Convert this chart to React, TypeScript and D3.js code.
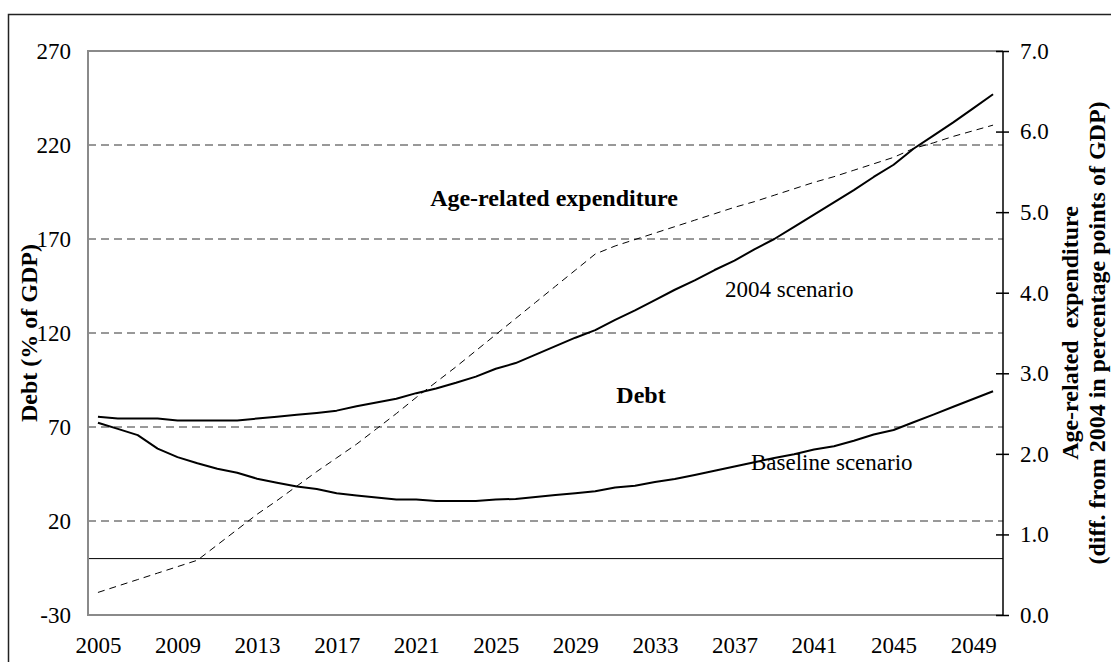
import React, { useEffect, useRef } from "react";
import * as d3 from "d3";

const years: number[] = d3.range(2005, 2051);
const yearTicks: number[] = [2005, 2009, 2013, 2017, 2021, 2025, 2029, 2033, 2037, 2041, 2045, 2049];
const debtTicks: number[] = [-30, 20, 70, 120, 170, 220, 270];
const gridTicks: number[] = [20, 70, 120, 170, 220];
const expTicks: number[] = [0, 1, 2, 3, 4, 5, 6, 7];

// Debt, 2004 scenario (% of GDP)
const debt2004: number[] = [
  75.5, 74.5, 74.5, 74.5, 73.5, 73.5, 73.5, 73.5, 74.5, 75.5,
  76.5, 77.5, 78.7, 81, 83, 85, 88, 90.5, 93.5, 96.8,
  101, 104, 108.5, 113, 117.5, 121.5, 127, 132, 137.5, 143,
  148, 153.5, 158.5, 164.5, 170, 176.5, 183, 189.5, 196, 203,
  209.5, 218, 225, 232, 239.5, 247,
];
// Debt, baseline scenario (% of GDP)
const debtBaseline: number[] = [
  72.3, 69, 65.7, 58.5, 54, 50.7, 47.8, 45.7, 42.5, 40.4,
  38.3, 37, 34.8, 33.6, 32.5, 31.5, 31.5, 30.6, 30.6, 30.6,
  31.5, 31.7, 32.8, 33.8, 34.8, 35.8, 37.8, 38.8, 40.8, 42.3,
  44.5, 46.7, 49, 51.3, 53.5, 55.5, 58, 59.8, 62.7, 66,
  68.4, 72.5, 76.6, 80.8, 84.9, 89,
];
// Age-related expenditure (diff. from 2004, pp of GDP)
const ageExp: number[] = [
  0.28, 0.36, 0.44, 0.52, 0.6, 0.68, 0.87, 1.06, 1.25, 1.42,
  1.6, 1.78, 1.95, 2.12, 2.31, 2.5, 2.7, 2.89, 3.08, 3.28,
  3.48, 3.68, 3.88, 4.08, 4.28, 4.48, 4.58, 4.66, 4.74, 4.82,
  4.9, 4.98, 5.06, 5.13, 5.21, 5.29, 5.37, 5.44, 5.52, 5.6,
  5.68, 5.79, 5.86, 5.94, 6.01, 6.08,
];

const W = 1111;
const H = 662;
const L = 88;
const R = 1003;
const T = 51;
const B = 615;
const FONT = "'Liberation Serif', 'Times New Roman', serif";

export default function App() {
  const ref = useRef<SVGSVGElement | null>(null);

  useEffect(() => {
    const svg = d3.select(ref.current);
    svg.selectAll("*").remove();

    const x = d3.scalePoint<number>().domain(years).range([L, R]).padding(0.5);
    const yL = d3.scaleLinear().domain([-30, 270]).range([B, T]);
    const yR = d3.scaleLinear().domain([0, 7]).range([B, T]);

    // outer frame
    svg.append("rect")
      .attr("x", 8.5).attr("y", 14.5)
      .attr("width", 1200).attr("height", 800)
      .attr("fill", "none").attr("stroke", "#222").attr("stroke-width", 1.5);

    // gridlines
    svg.append("g").selectAll("line").data(gridTicks).join("line")
      .attr("x1", L).attr("x2", R)
      .attr("y1", (d) => yL(d)).attr("y2", (d) => yL(d))
      .attr("stroke", "#333").attr("stroke-width", 1)
      .attr("stroke-dasharray", "8,5");

    // zero line
    svg.append("line")
      .attr("x1", L).attr("x2", R)
      .attr("y1", yL(0)).attr("y2", yL(0))
      .attr("stroke", "#000").attr("stroke-width", 1);

    // plot border (left, top, bottom) grey
    svg.append("path")
      .attr("d", `M${R},${T}H${L}V${B}H${R}`)
      .attr("fill", "none").attr("stroke", "#8a8a8a").attr("stroke-width", 2);

    // left axis
    const gL = svg.append("g").attr("transform", `translate(${L},0)`)
      .call(d3.axisLeft(yL).tickValues(debtTicks).tickSize(0).tickPadding(17).tickFormat((d) => String(d)));
    gL.select(".domain").remove();
    gL.selectAll("text").attr("font-family", FONT).attr("font-size", 23).attr("fill", "#000");

    // right axis
    const gR = svg.append("g").attr("transform", `translate(${R},0)`)
      .call(d3.axisRight(yR).tickValues(expTicks).tickSize(6).tickPadding(11).tickFormat((d) => (d as number).toFixed(1)));
    gR.select(".domain").attr("d", `M0,${T}V${B}`).attr("stroke", "#000").attr("stroke-width", 1.5);
    gR.selectAll(".tick line").attr("x1", -7).attr("stroke", "#000").attr("stroke-width", 1.5);
    gR.selectAll("text").attr("font-family", FONT).attr("font-size", 23).attr("fill", "#000");

    // bottom axis
    const gB = svg.append("g").attr("transform", `translate(0,${B})`)
      .call(d3.axisBottom(x).tickValues(yearTicks).tickSize(0).tickPadding(22));
    gB.select(".domain").remove();
    gB.selectAll("text").attr("font-family", FONT).attr("font-size", 23).attr("fill", "#000");

    // expenditure dashed
    const lineR = d3.line<number>().x((_, i) => x(years[i]) as number).y((d) => yR(d));
    svg.append("path").datum(ageExp)
      .attr("d", lineR)
      .attr("fill", "none").attr("stroke", "#000").attr("stroke-width", 1)
      .attr("stroke-dasharray", "7,5");

    const lineL = d3.line<number>().x((_, i) => x(years[i]) as number).y((d) => yL(d));
    [debt2004, debtBaseline].forEach((s) => {
      svg.append("path").datum(s)
        .attr("d", lineL)
        .attr("fill", "none").attr("stroke", "#000").attr("stroke-width", 2)
        .attr("stroke-linejoin", "round");
    });

    // annotations
    const txt = (t: string, xx: number, yy: number, bold: boolean, anchor = "start", size = 23) =>
      svg.append("text").attr("x", xx).attr("y", yy)
        .attr("font-family", FONT).attr("font-size", size)
        .attr("font-weight", bold ? "bold" : "normal")
        .attr("text-anchor", anchor).attr("fill", "#000")
        .attr("xml:space", "preserve")
        .text(t);

    txt("Age-related expenditure", 554, 206, true, "middle", 24);
    txt("Debt", 641, 403, true, "middle", 24);
    txt("2004 scenario", 725, 297, false, "start", 23);
    txt("Baseline scenario", 751, 470, false, "start", 23);

    // left title
    svg.append("text")
      .attr("transform", `translate(37,${(T + B) / 2}) rotate(-90)`)
      .attr("font-family", FONT).attr("font-size", 24).attr("font-weight", "bold")
      .attr("text-anchor", "middle").attr("fill", "#000")
      .text("Debt (% of GDP)");

    // right title
    const rt = svg.append("text")
      .attr("transform", `translate(1078,${(T + B) / 2}) rotate(-90)`)
      .attr("font-family", FONT).attr("font-size", 24).attr("font-weight", "bold")
      .attr("text-anchor", "middle").attr("fill", "#000")
      .attr("xml:space", "preserve");
    rt.append("tspan").attr("x", 0).attr("dy", 0).text("Age-related  expenditure");
    rt.append("tspan").attr("x", 0).attr("dy", 27).text("(diff. from 2004 in percentage points of GDP)");
  }, []);

  return (
    <svg
      ref={ref}
      width={W}
      height={H}
      style={{ position: "fixed", left: 0, top: 0, background: "#fff" }}
    />
  );
}
